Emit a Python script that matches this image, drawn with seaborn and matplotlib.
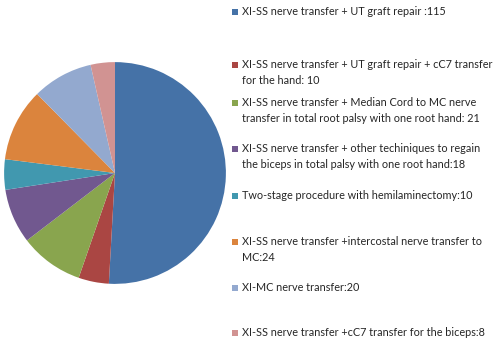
import matplotlib
matplotlib.use("Agg")
import matplotlib.pyplot as plt
import seaborn as sns
from matplotlib.patches import Rectangle

sns.set_theme(style="white")
plt.rcParams["font.family"] = ["Lato", "DejaVu Sans"]

labels = [
    "XI-SS nerve transfer + UT graft repair :115",
    "XI-SS nerve transfer + UT graft repair + cC7 transfer\nfor the hand: 10",
    "XI-SS nerve transfer + Median Cord to MC nerve\ntransfer in total root palsy with one root hand: 21",
    "XI-SS nerve transfer + other techiniques to regain\nthe biceps in total palsy with one root hand:18",
    "Two-stage procedure with hemilaminectomy:10",
    "XI-SS nerve transfer +intercostal nerve transfer to\nMC:24",
    "XI-MC nerve transfer:20",
    "XI-SS nerve transfer +cC7 transfer for the biceps:8",
]
counts = [115, 10, 21, 18, 10, 24, 20, 8]
colors = ["#4572A7", "#AA4643", "#89A54E", "#71588F",
          "#4198AF", "#DB843D", "#93A9CF", "#D19392"]

# legend row positions (pixels from top, first line centre)
legend_rows = [12, 65, 103, 149, 196, 242, 288, 333]

W, H = 500, 347
fig = plt.figure(figsize=(W / 100, H / 100), dpi=100)
fig.patch.set_facecolor("white")

ax = fig.add_axes([3 / W, 62 / H, 224 / W, 224 / H])
ax.pie(counts, colors=colors, startangle=90, counterclock=False,
       wedgeprops=dict(linewidth=0))
ax.set_xlim(-1.01, 1.01)
ax.set_ylim(-1.01, 1.01)
ax.set_aspect("equal")
ax.axis("off")

for lab, col, row in zip(labels, colors, legend_rows):
    fig.patches.append(Rectangle((232 / W, 1 - (row + 3) / H), 6 / W, 6 / H,
                                 transform=fig.transFigure, facecolor=col,
                                 edgecolor="none"))
    fig.text(242 / W, 1 - (row - 6) / H, lab, ha="left", va="top",
             fontsize=7.8, color="#262626", linespacing=1.6)

fig.savefig("out.png", dpi=100, facecolor="white")
